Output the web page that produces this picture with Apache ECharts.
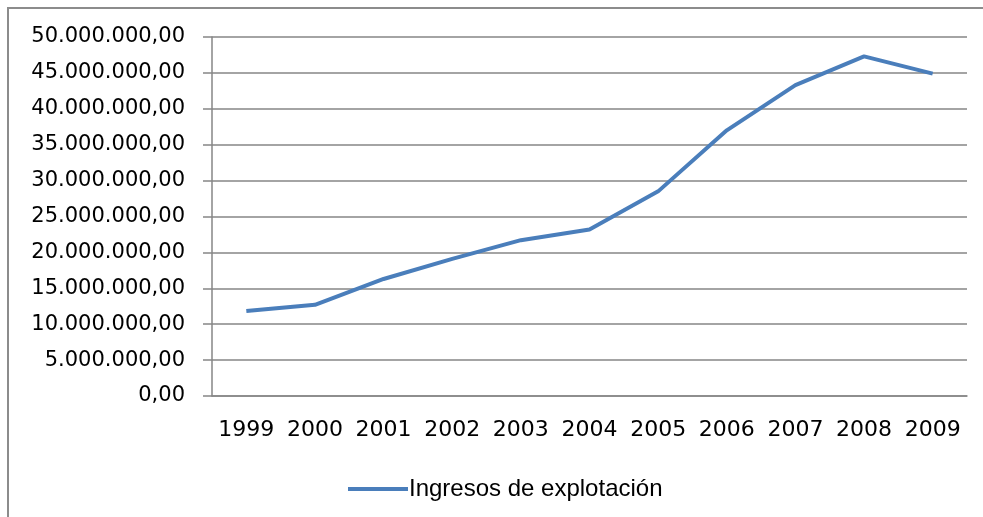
<!DOCTYPE html>
<html>
<head>
<meta charset="utf-8">
<script src="https://cdn.jsdelivr.net/npm/echarts@6/dist/echarts.min.js"></script>
<style>
  html, body { margin: 0; padding: 0; background: #fff; }
  #chart { width: 983px; height: 517px; }
</style>
</head>
<body>
<div id="chart"></div>
<script>
var years = ['1999', '2000', '2001', '2002', '2003', '2004', '2005', '2006', '2007', '2008', '2009'];
var ingresos = [11840000, 12700000, 16300000, 19100000, 21700000, 23200000, 28500000, 37000000, 43300000, 47300000, 44900000];
var seriesName = 'Ingresos de explotación';

// 12345678 -> "12.345.678,00"
function fmt(v) {
  return String(Math.round(v)).replace(/\B(?=(\d{3})+(?!\d))/g, '.') + ',00';
}

var myChart = echarts.init(document.getElementById('chart'));
var option = {
  animation: false,
  graphic: [{
    type: 'rect',
    shape: { x: 8, y: 8, width: 1000, height: 540 },
    style: { fill: 'none', stroke: '#8c8c8c', lineWidth: 2 }
  }],
  grid: { left: 212, right: 16, top: 37, bottom: 121 },
  legend: {
    left: 343,
    top: 472,
    itemWidth: 60,
    itemHeight: 4,
    itemGap: 0,
    icon: 'rect',
    textStyle: { fontFamily: 'Liberation Sans', fontSize: 24, color: '#000', padding: [0, 0, 0, -4] },
    data: [seriesName]
  },
  xAxis: {
    type: 'category',
    data: years,
    boundaryGap: true,
    axisLine: { lineStyle: { color: '#868686', width: 1.5 } },
    axisTick: { length: 9, lineStyle: { color: '#868686', width: 1.5 } },
    axisLabel: { color: '#000', fontFamily: 'DejaVu Sans', fontSize: 22, margin: 23, interval: 0, hideOverlap: false }
  },
  yAxis: {
    type: 'value',
    min: 0,
    max: 50000000,
    interval: 5000000,
    axisLine: { show: true, lineStyle: { color: '#868686', width: 1.5 } },
    axisTick: { show: true, length: 9, lineStyle: { color: '#868686', width: 1.5 } },
    splitLine: { lineStyle: { color: '#868686', width: 1.5 } },
    axisLabel: { color: '#000', fontFamily: 'DejaVu Sans', fontSize: 21, margin: 27, formatter: fmt }
  },
  series: [{
    name: seriesName,
    type: 'line',
    data: ingresos,
    symbol: 'none',
    lineStyle: { color: '#4a7ebb', width: 4 },
    itemStyle: { color: '#4a7ebb' }
  }]
};
myChart.setOption(option);
</script>
</body>
</html>
